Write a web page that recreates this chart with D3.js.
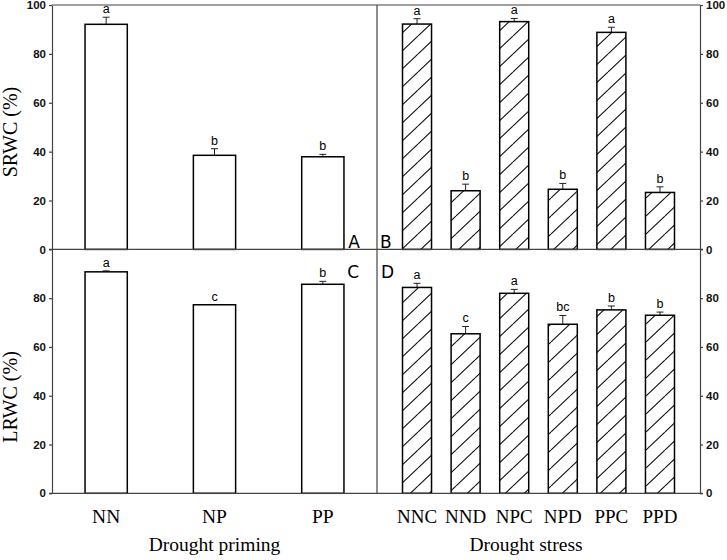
<!DOCTYPE html>
<html><head><meta charset="utf-8">
<script src="https://cdn.jsdelivr.net/npm/d3@7"></script>
<style>body{margin:0;background:#fff}</style></head>
<body><svg id="c" width="727" height="560"></svg>
<script>
const primingCats=["NN","NP","PP"];
const stressCats=["NNC","NND","NPC","NPD","PPC","PPD"];
const srwcPriming=[92.1,38.5,37.9];
const srwcPrimingErr=[2.9,2.7,1.0];
const srwcPrimingSig=["a","b","b"];
const srwcStress=[92.2,24.0,93.2,24.6,88.8,23.3];
const srwcStressErr=[2.2,2.7,1.3,2.4,2.1,2.3];
const srwcStressSig=["a","b","a","b","a","b"];
const lrwcPriming=[90.8,77.3,85.7];
const lrwcPrimingErr=[0.4,0,1.2];
const lrwcPrimingSig=["a","c","b"];
const lrwcStress=[84.4,65.4,82.0,69.3,75.2,73.0];
const lrwcStressErr=[1.7,3.0,1.6,3.6,1.6,1.3];
const lrwcStressSig=["a","c","a","bc","b","b"];
const topTicks=[0,20,40,60,80,100];
const bottomTicks=[0,20,40,60,80];

const svg=d3.select("#c");
const x0=52,xm=377,x1=700,yT=5,yM=249.4,yB=493.3;
const axisCol="#444";

const defs=svg.append("defs");
const pw=19,ph=18;
const pat=defs.append("pattern").attr("id","hatch").attr("patternUnits","userSpaceOnUse")
  .attr("width",pw).attr("height",ph);
pat.append("rect").attr("width",pw).attr("height",ph).attr("fill","#fff");
pat.append("path").attr("d",`M${-pw},${ph} L0,0 M0,${ph} L${pw},0 M${pw},${ph} L${2*pw},0`)
  .attr("stroke","#111").attr("stroke-width",1.1).attr("fill","none");

const xPrim=d3.scaleBand().domain(primingCats).range([x0,xm]).paddingInner(0.61).paddingOuter(0.305);
const xStr=d3.scaleBand().domain(stressCats).range([xm,x1]).paddingInner(0.403).paddingOuter(0.525);
const yTop=d3.scaleLinear().domain([0,100]).range([yM,yT]);
const yBot=d3.scaleLinear().domain([0,100]).range([yB,yM]);

function bars(cats,vals,errs,sigs,x,y,fill){
  const g=svg.append("g");
  const d=cats.map((c,i)=>({c,v:vals[i],e:errs[i],s:sigs[i]}));
  g.selectAll("line.err").data(d).join("line").attr("class","err")
    .attr("x1",k=>x(k.c)+x.bandwidth()/2).attr("x2",k=>x(k.c)+x.bandwidth()/2)
    .attr("y1",k=>y(k.v)).attr("y2",k=>y(k.v+k.e)).attr("stroke","#222").attr("stroke-width",1);
  g.selectAll("line.cap").data(d.filter(k=>k.e>0)).join("line").attr("class","cap")
    .attr("x1",k=>x(k.c)+x.bandwidth()/2-3.5).attr("x2",k=>x(k.c)+x.bandwidth()/2+3.5)
    .attr("y1",k=>y(k.v+k.e)).attr("y2",k=>y(k.v+k.e)).attr("stroke","#222").attr("stroke-width",1);
  g.selectAll("rect").data(d).join("rect")
    .attr("x",k=>x(k.c)).attr("width",x.bandwidth())
    .attr("y",k=>y(k.v)).attr("height",k=>y(0)-y(k.v))
    .attr("fill",fill).attr("stroke","#000").attr("stroke-width",1.5);
  g.selectAll("text").data(d).join("text")
    .attr("x",k=>x(k.c)+x.bandwidth()/2).attr("y",k=>y(k.v+k.e)-4)
    .attr("text-anchor","middle").attr("font-family","Liberation Sans, Arial, sans-serif")
    .attr("font-size",12.5).attr("fill","#000").text(k=>k.s);
}
bars(primingCats,srwcPriming,srwcPrimingErr,srwcPrimingSig,xPrim,yTop,"#fff");
bars(stressCats,srwcStress,srwcStressErr,srwcStressSig,xStr,yTop,"url(#hatch)");
bars(primingCats,lrwcPriming,lrwcPrimingErr,lrwcPrimingSig,xPrim,yBot,"#fff");
bars(stressCats,lrwcStress,lrwcStressErr,lrwcStressSig,xStr,yBot,"url(#hatch)");

// frame lines
const ln=(a,b,c,d)=>svg.append("line").attr("x1",a).attr("y1",b).attr("x2",c).attr("y2",d)
  .attr("stroke",axisCol).attr("stroke-width",1.2);
ln(x0,yT,x1,yT);
ln(x0-3,yM,x1+3,yM);
ln(x0-3,yB,x1+3,yB);
ln(xm,yT,xm,yB);

function axis(gen,ticks,tx){
  const g=svg.append("g").attr("transform",`translate(${tx},0)`)
    .call(gen.tickValues(ticks).tickSize(3).tickSizeOuter(0).tickPadding(3).tickFormat(d3.format("d")));
  g.select(".domain").attr("stroke",axisCol).attr("stroke-width",1.2);
  g.selectAll(".tick line").attr("stroke",axisCol).attr("stroke-width",1.2);
  g.selectAll(".tick text").attr("font-family","Liberation Sans, Arial, sans-serif")
    .attr("font-weight","bold").attr("font-size",11.5).attr("fill","#111");
}
axis(d3.axisLeft(yTop),topTicks,x0);
axis(d3.axisRight(yTop),topTicks,x1);
axis(d3.axisLeft(yBot),bottomTicks,x0);
axis(d3.axisRight(yBot),bottomTicks,x1);

// category labels
const serif="Liberation Serif, Times New Roman, serif";
svg.append("g").selectAll("text").data(primingCats).join("text")
  .attr("x",c=>xPrim(c)+xPrim.bandwidth()/2).attr("y",523).attr("text-anchor","middle")
  .attr("font-family",serif).attr("font-size",19.5).text(c=>c);
svg.append("g").selectAll("text").data(stressCats).join("text")
  .attr("x",c=>xStr(c)+xStr.bandwidth()/2).attr("y",523).attr("text-anchor","middle")
  .attr("font-family",serif).attr("font-size",19).text(c=>c);
svg.append("text").attr("x",(x0+xm)/2).attr("y",551).attr("text-anchor","middle")
  .attr("font-family",serif).attr("font-size",19.5).text("Drought priming");
svg.append("text").attr("x",xm+149).attr("y",551).attr("text-anchor","middle")
  .attr("font-family",serif).attr("font-size",19.5).text("Drought stress");

// y titles
svg.append("text").attr("transform","translate(17,132) rotate(-90)").attr("text-anchor","middle")
  .attr("font-family",serif).attr("font-size",20).text("SRWC (%)");
svg.append("text").attr("transform","translate(17,397) rotate(-90)").attr("text-anchor","middle")
  .attr("font-family",serif).attr("font-size",20).text("LRWC (%)");

// panel letters
const pl=(t,x,y,a)=>svg.append("text").attr("x",x).attr("y",y).attr("text-anchor",a)
  .attr("font-family","DejaVu Sans, sans-serif").attr("font-size",17).text(t);
pl("A",xm-17,yM-1.5,"end");
pl("B",xm+3,yM-1.5,"start");
pl("C",xm-18,yM+29,"end");
pl("D",xm+4,yM+29,"start");
</script></body></html>
